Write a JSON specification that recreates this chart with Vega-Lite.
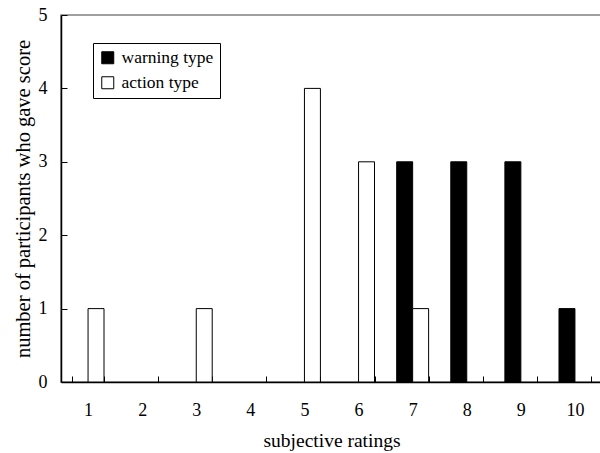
{
  "$schema": "https://vega.github.io/schema/vega-lite/v6.json",
  "autosize": "none",
  "width": 541,
  "height": 367,
  "padding": {"left": 61, "top": 15, "right": 0, "bottom": 71},
  "background": "white",
  "config": {
    "font": "Liberation Serif",
    "view": {"stroke": "#808080", "strokeWidth": 1.5}
  },
  "data": {"values": [
    {"rating": 1, "type": "action type", "count": 1},
    {"rating": 3, "type": "action type", "count": 1},
    {"rating": 5, "type": "action type", "count": 4},
    {"rating": 6, "type": "action type", "count": 3},
    {"rating": 7, "type": "warning type", "count": 3},
    {"rating": 7, "type": "action type", "count": 1},
    {"rating": 8, "type": "warning type", "count": 3},
    {"rating": 9, "type": "warning type", "count": 3},
    {"rating": 10, "type": "warning type", "count": 1}
  ]},
  "mark": {"type": "bar", "stroke": "black", "strokeWidth": 1},
  "encoding": {
    "x": {
      "field": "rating", "type": "ordinal",
      "scale": {"domain": [1, 2, 3, 4, 5, 6, 7, 8, 9, 10], "paddingInner": 0.41, "paddingOuter": 0.205},
      "axis": {"labelAngle": 0, "title": "subjective ratings", "tickBand": "extent", "tickSize": -6, "tickColor": "black", "domainColor": "black", "domainWidth": 1.5, "grid": false,
        "labelFont": "Liberation Serif", "labelFontSize": 18, "labelColor": "black", "labelPadding": 25,
        "titleFont": "Liberation Serif", "titleFontSize": 19.5, "titleFontWeight": "normal", "titleColor": "black", "titlePadding": 12}
    },
    "xOffset": {"field": "type", "type": "nominal", "scale": {"domain": ["warning type", "action type"], "paddingInner": 0, "paddingOuter": 0}},
    "y": {
      "field": "count", "type": "quantitative",
      "scale": {"domain": [0, 5], "nice": false},
      "axis": {"title": "number of participants who gave score", "values": [0, 1, 2, 3, 4, 5], "labelOverlap": false, "tickSize": -6, "tickColor": "black", "domainColor": "black", "domainWidth": 1.5, "grid": false,
        "labelFont": "Liberation Serif", "labelFontSize": 18, "labelColor": "black", "labelPadding": 20,
        "titleFont": "Liberation Serif", "titleFontSize": 20.5, "titleFontWeight": "normal", "titleColor": "black", "titlePadding": 5}
    },
    "fill": {
      "field": "type", "type": "nominal",
      "scale": {"domain": ["warning type", "action type"], "range": ["black", "white"]},
      "legend": {
        "title": null, "orient": "none", "legendX": 32, "legendY": 28,
        "strokeColor": "black", "padding": 6, "symbolType": "square", "symbolSize": 144,
        "symbolStrokeColor": "black", "symbolStrokeWidth": 1,
        "labelFont": "Liberation Serif", "labelFontSize": 17.5, "labelColor": "black",
        "rowPadding": 6, "labelOffset": 5, "fillColor": "white"
      }
    }
  }
}
